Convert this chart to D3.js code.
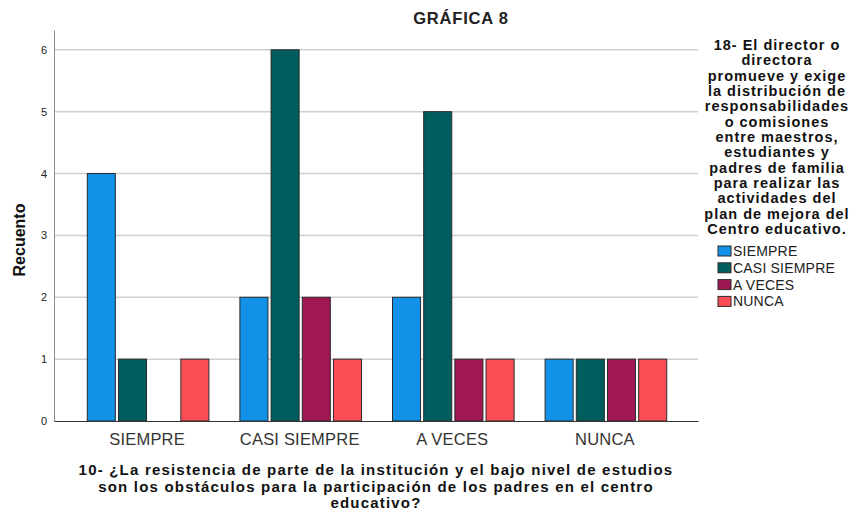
<!DOCTYPE html>
<html>
<head>
<meta charset="utf-8">
<script src="https://cdn.jsdelivr.net/npm/d3@7"></script>
<style>
  body { margin: 0; background: #fff; }
  svg { font-family: "Liberation Sans", Arial, sans-serif; }
</style>
</head>
<body>
<svg id="chart" width="853" height="514"></svg>
<script>
// Categories (x axis) and series (legend)
const categories = ["SIEMPRE", "CASI SIEMPRE", "A VECES", "NUNCA"];
const seriesNames = ["SIEMPRE", "CASI SIEMPRE", "A VECES", "NUNCA"];
const seriesColors = ["#1192e8", "#005d5d", "#9f1853", "#fa4d56"];

// Counts per series, in category order
const siempre = [4, 2, 2, 1];
const casiSiempre = [1, 6, 5, 1];
const aVeces = [0, 2, 1, 1];
const nunca = [1, 1, 1, 1];
const seriesValues = [siempre, casiSiempre, aVeces, nunca];

const yTicks = [0, 1, 2, 3, 4, 5, 6];

const legendTitle = [
  "18- El director o", "directora", "promueve y exige", "la distribución de",
  "responsabilidades", "o comisiones", "entre maestros,", "estudiantes y",
  "padres de familia", "para realizar las", "actividades del",
  "plan de mejora del", "Centro educativo."
];
const xTitle = [
  "10- ¿La resistencia de parte de la institución y el bajo nivel de estudios",
  "son los obstáculos para la participación de los padres en el centro",
  "educativo?"
];

const svg = d3.select("#chart");
const margin = { top: 30, left: 54, right: 155, bottom: 93 };
const width = 853, height = 514;

const x0 = d3.scaleBand()
  .domain(categories)
  .range([margin.left, width - margin.right])
  .paddingInner(0)
  .paddingOuter(0.11);

const x1 = d3.scaleBand()
  .domain(seriesNames)
  .range([16.5, x0.bandwidth() - 14.5])
  .paddingInner(0.1);

const y = d3.scaleLinear()
  .domain([0, 6.32])
  .range([height - margin.bottom, margin.top]);

// Gridlines
svg.append("g")
  .selectAll("line")
  .data(yTicks.filter(d => d > 0))
  .enter().append("line")
  .attr("x1", margin.left)
  .attr("x2", width - margin.right)
  .attr("y1", d => y(d))
  .attr("y2", d => y(d))
  .attr("stroke", "#cfcfcf")
  .attr("stroke-width", 1.5);

// Y axis
const yAxis = svg.append("g")
  .attr("transform", `translate(${margin.left},0)`)
  .call(d3.axisLeft(y).tickValues(yTicks).tickSize(0).tickPadding(7).tickFormat(d3.format("d")));
yAxis.select(".domain").attr("stroke", "#8a8a8a");
yAxis.selectAll("text").style("font-size", "11px").attr("fill", "#222");

// Bars
const rows = [];
categories.forEach((c, i) => {
  seriesNames.forEach((s, j) => {
    rows.push({ cat: c, ser: s, val: seriesValues[j][i], color: seriesColors[j] });
  });
});

svg.append("g")
  .selectAll("rect")
  .data(rows.filter(d => d.val > 0))
  .enter().append("rect")
  .attr("x", d => x0(d.cat) + x1(d.ser))
  .attr("y", d => y(d.val))
  .attr("width", x1.bandwidth())
  .attr("height", d => y(0) - y(d.val))
  .attr("fill", d => d.color)
  .attr("stroke", "#2b2b2b")
  .attr("stroke-width", 1);

// X axis
const xAxis = svg.append("g")
  .attr("transform", `translate(0,${y(0)})`)
  .call(d3.axisBottom(x0).tickSize(0).tickPadding(12));
xAxis.select(".domain").attr("stroke", "#333");
xAxis.selectAll("text")
  .style("font-size", "16.5px")
  .style("letter-spacing", "0.2px")
  .attr("fill", "#333");

// Title
svg.append("text")
  .attr("x", 461)
  .attr("y", 24)
  .attr("text-anchor", "middle")
  .style("font-size", "16.5px")
  .style("font-weight", "bold")
  .style("letter-spacing", "0.8px")
  .attr("fill", "#222")
  .text("GRÁFICA 8");

// Y label
svg.append("text")
  .attr("transform", "rotate(-90)")
  .attr("x", -240)
  .attr("y", 25)
  .attr("text-anchor", "middle")
  .style("font-size", "16px")
  .style("font-weight", "bold")
  .attr("fill", "#111")
  .text("Recuento");

// X title
svg.append("g")
  .selectAll("text")
  .data(xTitle)
  .enter().append("text")
  .attr("x", 376)
  .attr("y", (d, i) => 475 + i * 16.5)
  .attr("text-anchor", "middle")
  .style("font-size", "15px")
  .style("font-weight", "bold")
  .style("letter-spacing", "1.2px")
  .attr("fill", "#111")
  .text(d => d);

// Legend title
svg.append("g")
  .selectAll("text")
  .data(legendTitle)
  .enter().append("text")
  .attr("x", 777)
  .attr("y", (d, i) => 50 + i * 15.33)
  .attr("text-anchor", "middle")
  .style("font-size", "14.5px")
  .style("font-weight", "bold")
  .style("letter-spacing", "1px")
  .attr("fill", "#111")
  .text(d => d);

// Legend items
const legend = svg.append("g")
  .selectAll("g")
  .data(seriesNames)
  .enter().append("g")
  .attr("transform", (d, i) => `translate(718,${246 + i * 16.8})`);
legend.append("rect")
  .attr("width", 13)
  .attr("height", 10)
  .attr("fill", (d, i) => seriesColors[i])
  .attr("stroke", "#2b2b2b")
  .attr("stroke-width", 1);
legend.append("text")
  .attr("x", 15)
  .attr("y", 10)
  .style("font-size", "14px")
  .style("letter-spacing", "0.2px")
  .attr("fill", "#222")
  .text(d => d);
</script>
</body>
</html>
